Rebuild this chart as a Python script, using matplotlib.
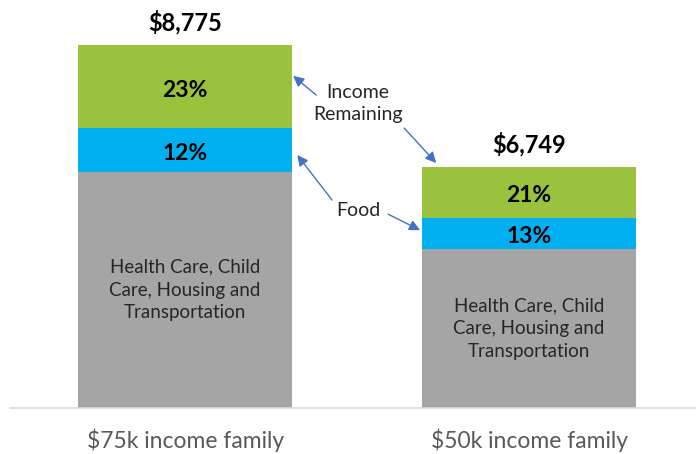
import matplotlib
matplotlib.use("Agg")
import matplotlib.pyplot as plt
import numpy as np

plt.rcParams['font.family'] = ['Lato', 'DejaVu Sans']

categories = ["$75k income family", "$50k income family"]
totals = ["$8,775", "$6,749"]
rel_heights = [1.0, 0.664]          # relative bar heights
other_pct = [65, 66]                # Health Care, Child Care, Housing and Transportation
food_pct = [12, 13]
remaining_pct = [23, 21]
other_label = "Health Care, Child\nCare, Housing and\nTransportation"

c_gray = "#A5A5A5"
c_blue = "#00B0F0"
c_green = "#9BC23C"
c_arrow = "#4472C4"

fig = plt.figure(figsize=(6.96, 4.54), dpi=100)
ax = fig.add_axes([10/696, 46/454, 686/696, 408/454])

x = np.arange(len(categories))
h = np.array(rel_heights)
g = h * np.array(other_pct) / 100
b = h * np.array(food_pct) / 100
r = h * np.array(remaining_pct) / 100
w = 0.622

ax.bar(x, g, w, color=c_gray, linewidth=0)
ax.bar(x, b, w, bottom=g, color=c_blue, linewidth=0)
ax.bar(x, r, w, bottom=g + b, color=c_green, linewidth=0)

for i in range(len(x)):
    ax.text(x[i], g[i] / 2, other_label, ha='center', va='center',
            fontsize=13.5, color="#262626", linespacing=1.42)
    ax.text(x[i], g[i] + b[i] / 2 - 0.01, f"{food_pct[i]}%", ha='center', va='center',
            fontsize=16.5, fontweight='bold', color='black')
    ax.text(x[i], g[i] + b[i] + r[i] / 2 - 0.01, f"{remaining_pct[i]}%", ha='center', va='center',
            fontsize=16.5, fontweight='bold', color='black')
    ax.text(x[i], h[i] + 0.062, totals[i], ha='center', va='center',
            fontsize=17, fontweight='bold', color='black')
    ax.text(x[i], -0.088, categories[i], ha='center', va='center',
            fontsize=16.5, color="#595959")

ax.text(0.503, 0.839, "Income\nRemaining", ha='center', va='center',
        fontsize=14, color="#262626", linespacing=1.3)
ax.text(0.503, 0.543, "Food", ha='center', va='center', fontsize=14, color="#262626")

ap = dict(arrowstyle='-|>', color=c_arrow, lw=1, mutation_scale=16, shrinkA=0, shrinkB=0)
ax.annotate("", xy=(0.314, 0.915), xytext=(0.381, 0.862), arrowprops=ap)
ax.annotate("", xy=(0.730, 0.675), xytext=(0.637, 0.771), arrowprops=ap)
ax.annotate("", xy=(0.326, 0.697), xytext=(0.427, 0.573), arrowprops=ap)
ax.annotate("", xy=(0.683, 0.490), xytext=(0.590, 0.534), arrowprops=ap)

ax.set_xlim(-0.509, 1.485)
ax.set_ylim(0, 1.124)
for s in ['top', 'right', 'left']:
    ax.spines[s].set_visible(False)
ax.spines['bottom'].set_color("#D9D9D9")
ax.spines['bottom'].set_linewidth(1.2)
ax.set_xticks([])
ax.set_yticks([])

fig.savefig("out.png", dpi=100)
